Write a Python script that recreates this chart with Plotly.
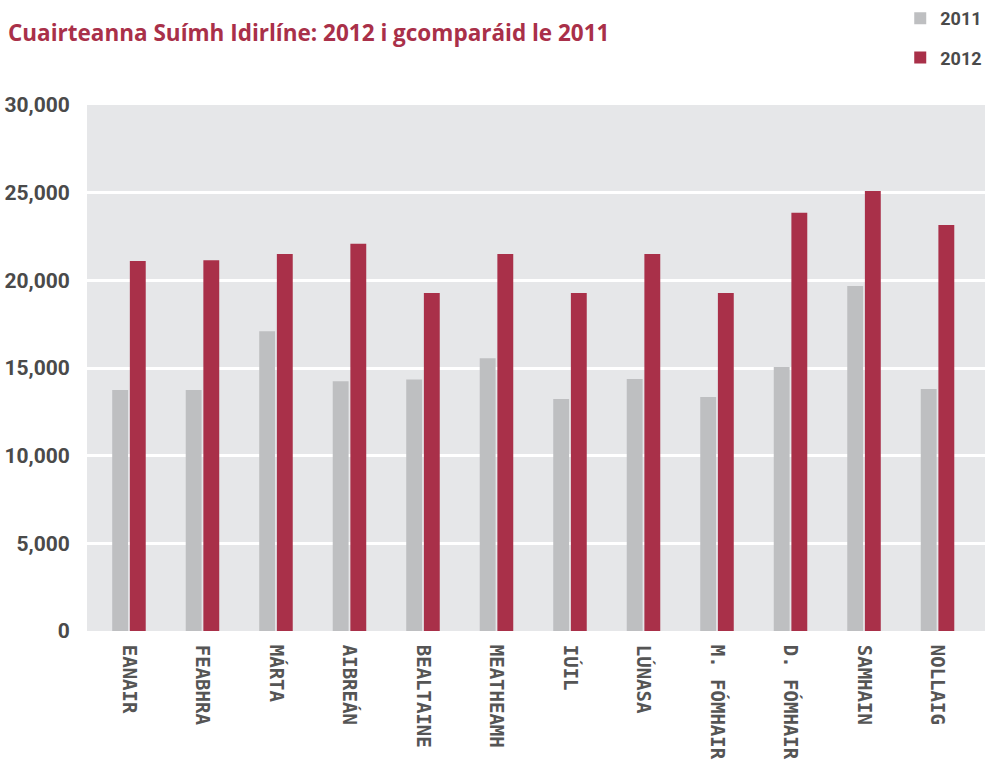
import plotly.graph_objects as go

months = ["EANAIR", "FEABHRA", "MÁRTA", "AIBREÁN", "BEALTAINE", "MEATHEAMH",
          "IÚIL", "LÚNASA", "M. FÓMHAIR", "D. FÓMHAIR", "SAMHAIN", "NOLLAIG"]
visits_2011 = [13750, 13750, 17100, 14250, 14350, 15550, 13230, 14370, 13350, 15050, 19680, 13800]
visits_2012 = [21100, 21150, 21500, 22080, 19280, 21500, 19280, 21500, 19280, 23850, 25100, 23160]
y_ticks = [0, 5000, 10000, 15000, 20000, 25000, 30000]
y_labels = ["0", "5,000", "10,000", "15,000", "20,000", "25,000", "30,000"]

GREY = "#BEBFC1"
RED = "#A93049"
TEXT = "#4a4a4a"

fig = go.Figure()
fig.add_trace(go.Bar(x=months, y=visits_2011, name="2011", marker_color=GREY,
                     marker_line_width=0, legendgroup="a"))
fig.add_trace(go.Bar(x=months, y=visits_2012, name="2012", marker_color=RED,
                     marker_line_width=0, legendgroup="b"))

fig.update_layout(
    width=992, height=767,
    margin=dict(l=87, r=7, t=105, b=136, autoexpand=False),
    paper_bgcolor="white",
    plot_bgcolor="#E6E7E9",
    barmode="group",
    bargap=0.52,
    bargroupgap=0.1,
    title=dict(
        text="Cuairteanna Suímh Idirlíne: 2012 i gcomparáid le 2011",
        font=dict(family="Open Sans", size=22.5, color=RED, weight="bold"),
        x=8 / 992, xanchor="left", xref="container",
        y=0.957, yanchor="middle", yref="container",
    ),
    legend=dict(
        xref="container", yref="container",
        x=0.9075, xanchor="left", y=1.004, yanchor="top",
        font=dict(family="Roboto", size=18, color=TEXT, weight="bold"),
        bgcolor="rgba(0,0,0,0)",
        tracegroupgap=13, itemwidth=30,
    ),
    showlegend=True,
    xaxis=dict(
        range=[-0.571, 11.646],
        tickangle=90,
        tickfont=dict(family="DejaVu Sans Mono", size=19, color="#555555", weight="bold"),
        ticks="outside", ticklen=9, tickcolor="rgba(0,0,0,0)",
        showgrid=False, zeroline=False, showline=False, automargin=False,
    ),
    yaxis=dict(
        range=[0, 30000],
        tickvals=y_ticks, ticktext=y_labels,
        tickfont=dict(family="Roboto", size=21, color=TEXT, weight="bold"),
        ticks="outside", ticklen=12, tickcolor="rgba(0,0,0,0)",
        showgrid=True, gridcolor="white", gridwidth=3,
        zeroline=False, showline=False, automargin=False,
    ),
)

fig.write_html(
    "out.html",
    config={"displayModeBar": False},
    post_script="document.body.style.margin='0';document.body.style.overflow='hidden';",
)
